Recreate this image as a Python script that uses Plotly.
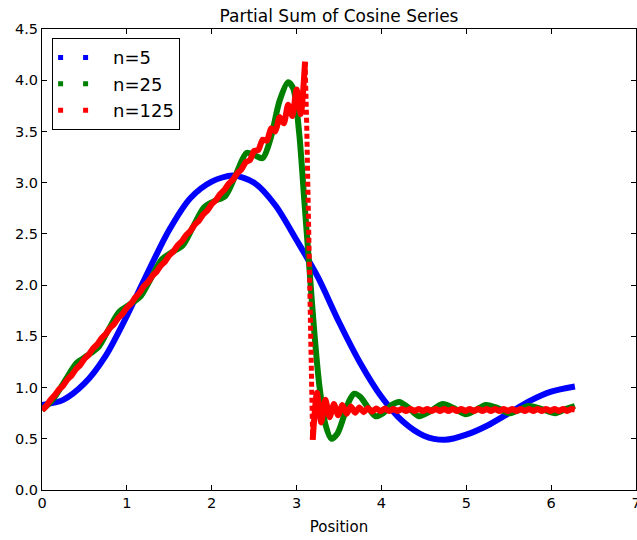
import plotly.graph_objects as go

TITLE = "Partial Sum of Cosine Series"
X_LABEL = "Position"
SERIES_NAMES = ["n=5", "n=25", "n=125"]

# n=5 partial sum
blue_x = [0.00, 0.25, 0.50, 0.75, 1.00, 1.25, 1.50, 1.75, 2.00, 2.25, 2.50, 2.75,
          3.00, 3.25, 3.50, 3.75, 4.00, 4.25, 4.50, 4.75, 5.00, 5.25, 5.50, 5.75,
          6.00, 6.28]
blue_y = [0.83, 0.88, 1.04, 1.31, 1.70, 2.13, 2.54, 2.85, 3.01, 3.07, 3.00, 2.78,
          2.44, 2.08, 1.64, 1.24, 0.91, 0.67, 0.53, 0.49, 0.54, 0.63, 0.75, 0.87,
          0.96, 1.01]

# n=25 partial sum
green_x = [0.00, 0.10, 0.16, 0.28, 0.41, 0.53, 0.66, 0.78, 0.91, 1.03, 1.16, 1.28,
           1.41, 1.53, 1.66, 1.78, 1.91, 2.03, 2.16, 2.28, 2.41, 2.50, 2.60, 2.70,
           2.80, 2.90, 2.96, 3.03, 3.09, 3.15, 3.21, 3.27, 3.34, 3.41, 3.48, 3.55,
           3.62, 3.68, 3.75, 3.83, 3.93, 4.02, 4.12, 4.21, 4.31, 4.44, 4.58, 4.72,
           4.85, 4.99, 5.11, 5.23, 5.37, 5.50, 5.62, 5.73, 5.89, 6.05, 6.17, 6.28]
green_y = [0.78, 0.86, 0.92, 1.08, 1.24, 1.31, 1.39, 1.56, 1.74, 1.81, 1.89, 2.06,
           2.25, 2.32, 2.39, 2.57, 2.76, 2.82, 2.87, 3.07, 3.29, 3.27, 3.24, 3.45,
           3.80, 3.98, 3.92, 3.49, 2.84, 2.18, 1.53, 1.01, 0.64, 0.50, 0.55, 0.70,
           0.87, 0.94, 0.91, 0.82, 0.72, 0.75, 0.83, 0.86, 0.81, 0.72, 0.77, 0.84,
           0.80, 0.74, 0.78, 0.83, 0.80, 0.75, 0.78, 0.82, 0.79, 0.75, 0.79, 0.82]

# n=125 partial sum
red_x = [0.00, 0.05, 0.10, 0.15, 0.20, 0.25, 0.30, 0.35, 0.40, 0.45, 0.50, 0.55,
         0.60, 0.65, 0.70, 0.75, 0.80, 0.85, 0.90, 0.95, 1.00, 1.05, 1.10, 1.15,
         1.20, 1.25, 1.30, 1.35, 1.40, 1.45, 1.50, 1.55, 1.60, 1.65, 1.70, 1.75,
         1.80, 1.85, 1.90, 1.95, 2.00, 2.05, 2.10, 2.15, 2.20, 2.25, 2.30, 2.35,
         2.40, 2.45, 2.50, 2.55, 2.60, 2.65, 2.70, 2.75, 2.80, 2.85, 2.90, 2.95,
         3.00, 3.05, 3.10, 3.11, 3.12, 3.13, 3.14, 3.15, 3.16, 3.17, 3.18, 3.19,
         3.24, 3.29, 3.34, 3.39, 3.44, 3.49, 3.54, 3.59, 3.64, 3.69, 3.74, 3.79,
         3.84, 3.89, 3.94, 3.99, 4.04, 4.09, 4.14, 4.19, 4.24, 4.29, 4.34, 4.39,
         4.44, 4.49, 4.54, 4.59, 4.64, 4.69, 4.74, 4.79, 4.84, 4.89, 4.94, 4.99,
         5.04, 5.09, 5.14, 5.19, 5.24, 5.29, 5.34, 5.39, 5.44, 5.49, 5.54, 5.59,
         5.64, 5.69, 5.74, 5.79, 5.84, 5.89, 5.94, 5.99, 6.04, 6.09, 6.14, 6.19,
         6.24, 6.28]
red_y = [0.78, 0.82, 0.88, 0.925, 0.98, 1.02, 1.08, 1.12, 1.18, 1.22, 1.28, 1.32,
         1.38, 1.42, 1.48, 1.52, 1.58, 1.62, 1.68, 1.72, 1.78, 1.82, 1.88, 1.925,
         1.99, 2.03, 2.09, 2.13, 2.19, 2.23, 2.29, 2.33, 2.39, 2.43, 2.49, 2.53,
         2.59, 2.63, 2.69, 2.73, 2.79, 2.83, 2.89, 2.93, 2.99, 3.03, 3.09, 3.13,
         3.20, 3.22, 3.31, 3.32, 3.42, 3.41, 3.53, 3.50, 3.64, 3.58, 3.76, 3.65,
         3.91, 3.67, 4.18, 3.95, 3.55, 3.10, 2.65, 2.20, 1.75, 1.32, 0.92, 0.49,
         0.95, 0.66, 0.88, 0.71, 0.84, 0.73, 0.83, 0.745, 0.815, 0.755, 0.805, 0.76,
         0.80, 0.765, 0.795, 0.77, 0.795, 0.77, 0.79, 0.772, 0.79, 0.772, 0.79, 0.772,
         0.79, 0.772, 0.79, 0.772, 0.79, 0.772, 0.79, 0.772, 0.79, 0.772, 0.79, 0.772,
         0.79, 0.772, 0.79, 0.772, 0.79, 0.772, 0.79, 0.772, 0.79, 0.772, 0.79, 0.772,
         0.79, 0.772, 0.79, 0.772, 0.79, 0.772, 0.79, 0.772, 0.79, 0.772, 0.79, 0.772,
         0.79, 0.785]

COLORS = ["#0000ff", "#008000", "#ff0000"]
FONT = "DejaVu Sans"
LW = 6


def split_steep(xs, ys, limit=15.0):
    """Split a series into gentle (solid) and steep (dotted) parts."""
    sx, sy, dx, dy = [], [], [], []
    prev_steep = None
    for i in range(len(xs) - 1):
        slope = abs((ys[i + 1] - ys[i]) / (xs[i + 1] - xs[i]))
        steep = slope > limit
        tx, ty = (dx, dy) if steep else (sx, sy)
        if prev_steep is None or steep != prev_steep:
            if tx:
                tx.append(None)
                ty.append(None)
            tx.append(xs[i])
            ty.append(ys[i])
        tx.append(xs[i + 1])
        ty.append(ys[i + 1])
        prev_steep = steep
    return sx, sy, dx, dy


fig = go.Figure()

fig.add_trace(go.Scatter(x=blue_x, y=blue_y, mode="lines", showlegend=False,
                         line=dict(color=COLORS[0], width=LW, shape="spline", smoothing=0.8)))
fig.add_trace(go.Scatter(x=green_x, y=green_y, mode="lines", showlegend=False,
                         line=dict(color=COLORS[1], width=LW, shape="spline", smoothing=0.8)))
rsx, rsy, rdx, rdy = split_steep(red_x, red_y)
fig.add_trace(go.Scatter(x=rsx, y=rsy, mode="lines", showlegend=False,
                         line=dict(color=COLORS[2], width=LW, shape="spline", smoothing=0.6)))
fig.add_trace(go.Scatter(x=rdx, y=rdy, mode="lines", showlegend=False,
                         line=dict(color=COLORS[2], width=5, dash="5px,3px")))

# legend entries: two dots per entry like the original
for name, col in zip(SERIES_NAMES, COLORS):
    fig.add_trace(go.Scatter(x=[None], y=[None], mode="lines", name=name,
                             line=dict(color=col, width=5, dash="5px,20px")))

axis_common = dict(showline=True, linecolor="black", linewidth=1, mirror="ticks",
                   ticks="inside", ticklen=5, tickcolor="black", showgrid=False,
                   zeroline=False, ticklabeloverflow="allow",
                   tickfont=dict(family=FONT, size=14.5, color="black"))

fig.update_layout(
    width=637, height=540,
    margin=dict(l=42, r=1, t=29, b=50, autoexpand=False),
    paper_bgcolor="white", plot_bgcolor="white",
    title=dict(text=TITLE, x=0.5, xref="paper", y=0.982, yanchor="top",
               font=dict(family=FONT, size=17, color="black")),
    xaxis=dict(range=[0, 7], dtick=1, tick0=0,
               title=dict(text=X_LABEL, font=dict(family=FONT, size=15, color="black"),
                          standoff=11),
               **axis_common),
    yaxis=dict(range=[0, 4.5], dtick=0.5, tick0=0, tickformat=".1f", **axis_common),
    legend=dict(x=0.017, y=0.98, xanchor="left", yanchor="top",
                bordercolor="black", borderwidth=1, bgcolor="white",
                font=dict(family=FONT, size=18, color="black"),
                itemwidth=50, tracegroupgap=4),
)

fig.write_html("out.html")
